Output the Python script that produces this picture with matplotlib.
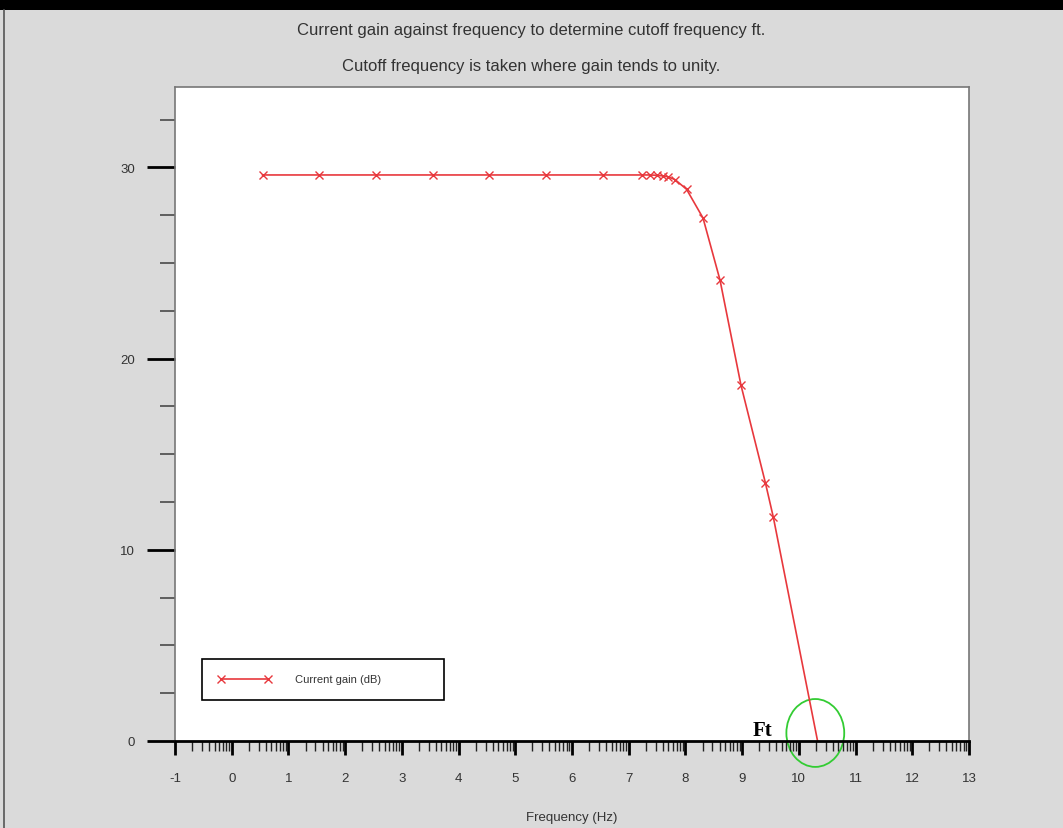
import numpy as np
import matplotlib
matplotlib.use('Agg')
import matplotlib.pyplot as plt
from matplotlib.patches import Ellipse, Rectangle
from matplotlib.lines import Line2D

plt.rcParams['font.family'] = ['Liberation Sans', 'DejaVu Sans']
plt.rcParams['axes.unicode_minus'] = False

# log10 of frequency vs current gain (dB)
log_freq = [0.544, 1.544, 2.544, 3.544, 4.544, 5.544, 6.544, 7.23, 7.38, 7.50,
            7.61, 7.70, 7.82, 8.02, 8.31, 8.61, 8.98, 9.41, 9.55, 10.33]
gain_db = [29.6, 29.6, 29.6, 29.6, 29.6, 29.6, 29.6, 29.6, 29.6, 29.58,
           29.55, 29.5, 29.35, 28.85, 27.35, 24.1, 18.6, 13.5, 11.7, 0.0]

x_major = list(range(-1, 14))
y_major = [0, 10, 20, 30]

title1 = 'Current gain against frequency to determine cutoff frequency ft.'
title2 = 'Cutoff frequency is taken where gain tends to unity.'
series_label = 'Current gain (dB)'

bg = '#dadada'
red = '#e8383d'
W, H = 1063, 829

fig = plt.figure(figsize=(W / 100, H / 100), dpi=100, facecolor=bg)

# frame decorations of the original window
fig.patches.append(Rectangle((0, 1 - 11 / H), 1, 10 / H, transform=fig.transFigure,
                             facecolor='black', edgecolor='none'))
fig.lines.append(Line2D([3.5 / W, 3.5 / W], [0, 1 - 11 / H], transform=fig.transFigure,
                        color='#555555', lw=1.2))

ax = fig.add_axes([175 / W, 1 - 742 / H, 794 / W, 654 / H])
ax.set_facecolor('white')

ax.plot(log_freq, gain_db, color=red, lw=1.2, marker='x', ms=6, mew=1.0,
        markevery=list(range(len(log_freq) - 1)), label=series_label, clip_on=False)

ax.set_xlim(-1, 13)
ax.set_ylim(0, 34.2)

ax.set_xticks(x_major)
minor_x = [i + np.log10(k) for i in range(-1, 13) for k in range(2, 10)]
ax.set_xticks(minor_x, minor=True)
ax.set_yticks(y_major)
ax.set_yticks(np.arange(0, 34.2, 2.5), minor=True)

ax.tick_params(axis='x', which='major', direction='out', length=10, width=2,
               color='black', pad=12, labelsize=9.5, labelcolor='#333333')
ax.tick_params(axis='x', which='minor', direction='out', length=7, width=1,
               color='#222222')
ax.tick_params(axis='y', which='major', direction='out', length=20, width=2,
               color='black', pad=9, labelsize=9.5, labelcolor='#333333')
ax.tick_params(axis='y', which='minor', direction='out', length=11, width=1.3,
               color='#555555')

for side in ['left', 'top', 'right']:
    ax.spines[side].set_color('#777777')
    ax.spines[side].set_linewidth(1.2)
ax.spines['bottom'].set_color('black')
ax.spines['bottom'].set_linewidth(2)

ax.set_xlabel('Frequency (Hz)', fontsize=9.5, color='#333333')
ax.xaxis.set_label_coords(0.5, -(812 - 742) / 654)

fig.text(0.5, 1 - 30 / H, title1, ha='center', va='center', fontsize=12, color='#333333')
fig.text(0.5, 1 - 67 / H, title2, ha='center', va='center', fontsize=12, color='#333333')

leg = ax.legend(loc='lower left', bbox_to_anchor=(27 / 794, 41 / 654, 242 / 794, 49 / 654),
                mode='expand', numpoints=2, handlelength=4.8, handletextpad=2.2,
                borderpad=1.4, fontsize=8, fancybox=False, framealpha=1,
                edgecolor='black', borderaxespad=0)
leg.get_frame().set_linewidth(1.2)
for t in leg.get_texts():
    t.set_color('#333333')

# cutoff marker
ax.add_patch(Ellipse((10.29, 0.42), 1.02, 3.55, fill=False, edgecolor='#33cc33',
                     lw=1.3, clip_on=False))
ax.text(9.18, 0.55, 'Ft', family=['Liberation Serif', 'DejaVu Serif'],
        fontweight='bold', fontsize=15, ha='left', va='center', color='black')

fig.savefig('out.png', dpi=100, facecolor=bg)
